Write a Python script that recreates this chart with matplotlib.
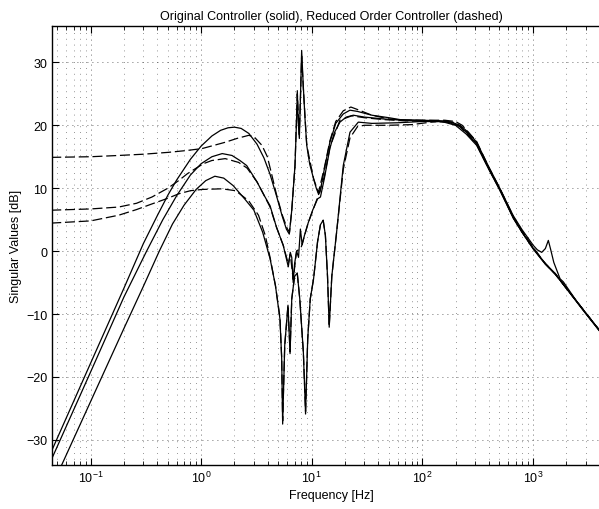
import matplotlib
matplotlib.use("Agg")
import matplotlib.pyplot as plt
from matplotlib.ticker import LogLocator, FixedLocator, NullFormatter

# -------------------------------------------------------
# Data (frequency in Hz, level in dB)
# -------------------------------------------------------

s1_f = [0.044, 0.1, 0.2, 0.3, 0.4, 0.5, 0.6, 0.8, 1.0, 1.25, 1.5, 1.75, 2.0, 2.3,
        2.7, 3.2, 3.7, 4.2, 4.8, 5.4, 5.9, 6.27, 6.6, 7.06, 7.3, 7.41, 7.55, 7.73,
        7.9, 8.11, 8.39, 8.7, 9.02, 9.6, 10.4, 11.0, 11.5, 11.9, 13.0, 14.6, 16.5,
        19.3, 22.2, 26, 35, 50, 63, 100, 156, 190, 220, 260, 311, 400, 506, 667,
        800, 1012, 1100, 1205, 1300, 1383, 1450, 1550, 1766, 1892, 2500, 3000,
        3930, 5000]
s1_db = [-31.9, -17.8, -5.9, 1.2, 5.6, 8.9, 11.3, 14.6, 16.7, 18.3, 19.2, 19.6,
         19.7, 19.5, 18.7, 17.0, 14.8, 12.2, 8.8, 5.6, 3.5, 2.7, 6.5, 13.6, 21.0,
         25.5, 20.5, 17.9, 24.0, 31.9, 26.3, 21.0, 16.8, 13.8, 11.5, 10.0, 9.1,
         9.4, 13.0, 17.3, 20.3, 21.8, 22.4, 22.2, 21.6, 21.2, 20.9, 20.8, 20.7,
         20.4, 20.0, 18.9, 17.3, 13.4, 9.9, 5.6, 3.4, 0.9, 0.2, -0.2, 0.4, 1.7,
         0.3, -1.8, -4.4, -4.9, -8.0, -9.8, -12.4, -14.7]

s2_f = [0.044, 0.1, 0.2, 0.321, 0.45, 0.6, 0.8, 1.0, 1.25, 1.55, 1.9, 2.24, 2.58,
        3.2, 3.7, 4.2, 4.8, 5.53, 6.14, 6.4, 6.6, 6.8, 7.0, 7.3, 7.6, 7.9, 8.2,
        8.6, 9.3, 10.2, 11.3, 12.0, 13.0, 14.6, 16.0, 18.0, 20.5, 23.8, 30, 45,
        70, 120, 170, 220, 260, 311, 400, 506, 667, 800, 1012, 1300, 1600, 1892,
        2500, 3000, 3930, 5000]
s2_db = [-33.2, -19.2, -7.3, 0.0, 5.0, 8.8, 12.1, 13.9, 15.0, 15.5, 15.2, 14.4,
         13.6, 11.0, 8.9, 7.2, 3.8, 0.9, -2.5, -0.2, -1.0, -5.0, -2.0, 0.0, -1.0,
         3.5, 1.0, 2.5, 4.5, 6.5, 8.3, 8.6, 11.5, 16.3, 18.8, 20.5, 21.3, 21.6,
         21.3, 21.0, 20.8, 20.7, 20.5, 19.8, 18.6, 17.0, 13.1, 9.7, 5.3, 3.0, 0.4,
         -2.0, -3.6, -5.3, -8.0, -9.8, -12.4, -14.7]

s3_f = [0.044, 0.0547, 0.1, 0.2, 0.3, 0.418, 0.55, 0.7, 0.9, 1.1, 1.33, 1.6, 1.95,
        2.5, 3.0, 3.6, 4.2, 4.7, 5.16, 5.35, 5.46, 5.7, 6.1, 6.37, 6.6, 7.0, 7.4,
        7.8, 8.4, 8.8, 9.2, 9.7, 10.4, 11.3, 12.0, 12.7, 13.3, 13.9, 14.4, 15.2,
        16.8, 19.3, 22.2, 26.4, 35, 60, 100, 150, 200, 250, 311, 400, 506, 667,
        800, 1012, 1300, 1600, 1892, 2500, 3000, 3930, 5000]
s3_db = [-37.5, -34.0, -23.9, -12.3, -5.6, 0.0, 4.3, 7.3, 9.8, 11.2, 11.9, 11.6,
         10.4, 8.2, 6.5, 3.0, -1.2, -5.5, -10.8, -17.0, -27.5, -15.0, -8.6, -16.3,
         -7.6, -4.0, -3.5, -7.6, -16.0, -25.9, -14.0, -7.6, -4.4, 1.5, 4.2, 4.9,
         2.5, -4.0, -12.1, -4.0, 3.0, 13.6, 18.9, 20.5, 20.3, 20.4, 20.6, 20.6,
         20.0, 18.6, 16.8, 13.0, 9.6, 5.2, 3.0, 0.3, -2.1, -3.7, -5.3, -8.1, -9.9,
         -12.5, -14.8]

d1_f = [0.044, 0.1, 0.179, 0.3, 0.508, 0.75, 1.02, 1.3, 1.65, 2.1, 2.69, 3.0, 3.55,
        3.97, 4.4, 4.8, 5.4, 6.0, 6.3, 6.6, 7.06, 7.41, 7.73, 8.11, 8.39, 9.02,
        10.4, 11.5, 13.0, 14.6, 16.5, 19.3, 22.6, 26, 35, 50, 70, 100, 160, 200,
        230, 311, 400, 506, 667, 800, 1012, 1300, 1600, 1892, 2500, 3000, 3930,
        5000]
d1_db = [14.9, 15.0, 15.2, 15.4, 15.7, 16.0, 16.3, 16.8, 17.3, 17.9, 18.4, 18.2,
         16.8, 15.0, 11.8, 9.0, 5.8, 3.6, 3.0, 6.5, 13.6, 25.0, 18.5, 31.0, 26.0,
         16.8, 11.5, 9.3, 13.2, 17.5, 20.6, 22.3, 22.9, 22.5, 21.6, 21.0, 20.8,
         20.8, 20.8, 20.6, 20.0, 17.4, 13.3, 9.9, 5.5, 3.2, 0.5, -2.0, -3.7, -5.3,
         -8.0, -9.8, -12.4, -14.7]

d2_f = [0.044, 0.1, 0.179, 0.26, 0.359, 0.5, 0.625, 0.75, 0.885, 1.05, 1.25, 1.65,
        2.18, 2.6, 3.2, 3.7, 4.2, 4.8, 5.53, 6.14, 6.4, 6.8, 7.3, 8.0, 9.3, 11.3,
        13.0, 14.6, 18.0, 23.0, 30, 45, 70, 120, 170, 220, 260, 311, 400, 506,
        667, 800, 1012, 1300, 1600, 1892, 2500, 3000, 3930, 5000]
d2_db = [6.5, 6.7, 7.0, 7.6, 8.6, 10.0, 11.2, 12.3, 13.1, 13.9, 14.4, 14.7, 14.1,
         13.2, 11.0, 8.9, 7.0, 3.8, 0.9, -2.0, -0.5, -4.5, 0.0, 0.5, 4.5, 8.5,
         11.8, 16.5, 20.8, 21.5, 21.2, 20.9, 20.7, 20.6, 20.5, 19.9, 18.7, 17.1,
         13.2, 9.8, 5.4, 3.1, 0.5, -2.0, -3.6, -5.3, -8.0, -9.8, -12.4, -14.7]

d3_f = [0.044, 0.1, 0.179, 0.26, 0.359, 0.5, 0.625, 0.8, 1.02, 1.54, 2.05, 2.69,
        3.3, 3.8, 4.2, 4.7, 5.16, 5.35, 5.46, 5.7, 6.1, 6.37, 6.6, 7.0, 7.4, 7.8,
        8.4, 8.8, 9.2, 9.7, 10.4, 11.3, 12.0, 12.7, 13.3, 13.9, 14.4, 15.2, 16.8,
        19.3, 22.2, 26, 30, 50, 80, 120, 160, 200, 250, 311, 400, 506, 667, 800,
        1012, 1300, 1600, 1892, 2500, 3000, 3930, 5000]
d3_db = [4.45, 4.8, 5.7, 6.6, 7.5, 8.4, 9.1, 9.6, 9.8, 9.9, 9.6, 8.0, 5.7, 2.5,
         -1.0, -5.5, -10.5, -17.0, -27.0, -15.0, -8.6, -16.0, -7.6, -4.0, -3.5,
         -7.6, -16.0, -25.5, -14.0, -7.6, -4.4, 1.5, 4.2, 4.9, 2.5, -4.0, -12.0,
         -4.0, 3.0, 13.0, 18.0, 19.8, 20.0, 20.0, 20.1, 20.5, 20.7, 20.4, 18.8,
         16.9, 13.1, 9.7, 5.3, 3.0, 0.4, -2.0, -3.6, -5.3, -8.0, -9.8, -12.4, -14.7]

# -------------------------------------------------------
# Figure
# -------------------------------------------------------

plt.rcParams["font.family"] = ["Liberation Sans", "DejaVu Sans"]
plt.rcParams["mathtext.default"] = "regular"

fig = plt.figure(figsize=(5.99, 5.10), dpi=100)
ax = fig.add_axes([0.0868, 0.0863, 0.9316, 0.861])

for f, db in [(s1_f, s1_db), (s2_f, s2_db), (s3_f, s3_db)]:
    ax.semilogx(f, db, color="k", lw=0.9)

for f, db in [(d1_f, d1_db), (d2_f, d2_db), (d3_f, d3_db)]:
    ax.semilogx(f, db, color="k", lw=0.9, dashes=(8, 3))

ax.set_xlim(0.0447, 5000)
ax.set_ylim(-34, 35.8)

ax.xaxis.set_major_locator(LogLocator(base=10, numticks=20))
ax.xaxis.set_minor_locator(LogLocator(base=10, subs=range(2, 10), numticks=20))
ax.xaxis.set_minor_formatter(NullFormatter())
ax.yaxis.set_major_locator(FixedLocator([-30, -20, -10, 0, 10, 20, 30]))

ax.grid(True, which="major", color="0.25", lw=0.6, ls=(0, (1, 5)))
ax.xaxis.grid(True, which="minor", color="0.45", lw=0.6, ls=(0, (1, 6)))

ax.tick_params(which="both", direction="in", top=True, right=True, labelsize=9)
ax.tick_params(which="major", length=5, width=0.8)
ax.tick_params(which="minor", length=3, width=0.6)
for sp in ax.spines.values():
    sp.set_linewidth(1.0)

ax.set_title("Original Controller (solid), Reduced Order Controller (dashed)",
             fontsize=9, pad=5)
ax.set_xlabel("Frequency [Hz]", fontsize=9, labelpad=3)
ax.set_ylabel("Singular Values [dB]", fontsize=9, labelpad=3)

fig.savefig("out.png", dpi=100)
